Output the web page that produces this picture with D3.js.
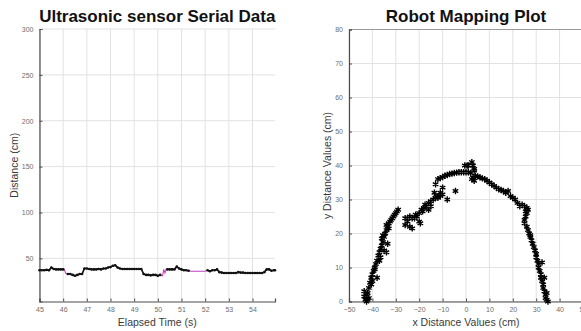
<!DOCTYPE html>
<html><head><meta charset="utf-8">
<script src="https://cdn.jsdelivr.net/npm/d3@7"></script>
<style>body{margin:0;background:#fff}svg{display:block}</style>
</head><body>
<svg id="c" width="581" height="331"></svg>
<script>
// ---- Data: Ultrasonic sensor serial data ----
const timeS = [45.0,45.1,45.2,45.3,45.4,45.5,45.6,45.7,45.8,45.9,46.0,46.05,46.1,46.15,46.2,46.3,46.4,46.5,46.6,46.7,46.8,46.9,47.0,47.1,47.2,47.3,47.4,47.5,47.6,47.7,47.8,47.9,48.0,48.1,48.2,48.3,48.4,48.5,48.6,48.7,48.8,48.9,49.0,49.1,49.2,49.3,49.4,49.5,49.6,49.7,49.8,49.9,50.0,50.1,50.2,50.25,50.3,50.35,50.4,50.5,50.6,50.7,50.8,50.9,51.0,51.1,51.2,51.3,51.4,51.6,51.8,52.0,52.1,52.2,52.3,52.4,52.5,52.6,52.7,52.8,52.9,53.0,53.1,53.2,53.3,53.4,53.5,53.6,53.7,53.8,53.9,54.0,54.1,54.2,54.3,54.4,54.5,54.6,54.7,54.8,54.9,54.95];
const distCm = [37,37,37,37.5,37,40,38.5,38,38,38,38,38,34,33,33,33,32,31,32,33,33,39,39,38.5,38,38,38,38.5,38,39,39,40,40.5,42,42.5,40,39,38.5,38.5,38.5,38.5,38.5,38.5,38.5,38.5,38.5,33,32,32,31.5,32,32,31,32,31,38,34,38,38,38,38,38,41,39,38,37,37,36.5,36,36,36,36,37,36,37,37,38,35,34.5,34,34,34,34,34,34,35,34.5,34.5,34,34,34,34,34,34,34,34,35,38,38,36.5,37,37];
// time ranges where the sensor samples have no marker (only the raw magenta trace)
const gapStart = [46.05, 50.2, 51.4];
const gapEnd   = [46.15, 50.35, 52.0];
const timeTicks = [45,46,47,48,49,50,51,52,53,54];
const distTicks = [50,100,150,200,250,300];

// ---- Data: Robot mapping plot ----
const mapX = [-43.5,-43.5,-43,-42.5,-42,-41.5,-42,-41.5,-41,-40.5,-40,-39.5,-39,-38.5,-38,-37.5,-37,-36.5,-36,-35.5,-35,-34.5,-34,-33.5,-33,-32.5,-32,-31.5,-31,-30.5,-30,-29.5,-29,-34,-35,-37,-38,-40,-36,-34,-33.5,-39,-40.5,-42.5,-36.5,-35.5,-33,
 -26,-26,-25,-24,-23,-24,-23,-22,-21,-20,-19,-20,-19.5,-18,-17,-16,-15,-14,-13,-12,-11,-10,-11,-12,-10,-8,-4.5,-16,-15,-18.5,-21.5,-25,-13.5,-17.5,
 -13,-12,-11,-10,-9,-8,-7,-6,-5,-4,-3,-2,-1,0,1,2,2.5,3,3.5,4,5,6,7,8,9,10,11,12,13,14,15,16,17,18,19,20,21,22,23,24,25,26,26.5,26,25.5,25,25,26,26.5,27,27.5,28,28.5,29,29.5,30,30,30.5,31,31,31.5,32,32,32.5,33,33,33.5,34,34,34.5,35,34.5,33.5,32.5,27.5,25.5,
 -0.5,0.5,1,2.5,3,3.5,3.5];
const mapY = [3,1.5,0.5,0,0.5,1,2.5,4,5.5,7,8,9,10,11,12,13.5,14.5,15.5,16.5,17.5,19,20,21,22,23,23.5,24,24.5,25,25.5,26,26.5,27,14.5,15,12,7,6,18.5,22.5,17,9.5,5,2,13,19.5,21.5,
 22.5,24.5,24.5,25,24.5,22,21.5,24.5,25,26,27,23.5,23,27.5,28,29,29.5,30,30.5,31,31,31.5,32,30.5,33.5,30,32.5,27,28,26.5,25.5,23.5,32,28.5,
 34.5,36,36.3,36.6,37,37.2,37.5,37.6,37.8,37.9,38,38,38,38,38,37.8,36,36.5,35.5,37,36.8,36.5,36.2,36,35.5,35,34.5,34,33.5,33,32.8,32.5,32,32.5,31,30.5,30,29,28,28.5,28,27.5,27,26,25,24,23,22,21,20,19,18,17,16,15,14,13,12,11,10,9,8,7,6,5,4,3,2,1,0.5,0,2.5,7,11.5,19.5,26.5,
 40,40,40,41,40,39,38.5];
const mapXTicks = [-50,-40,-30,-20,-10,0,10,20,30,40,50];
const mapYTicks = [0,10,20,30,40,50,60,70,80];

// ---- Drawing ----
const svg = d3.select('#c');
const FONT = '"Liberation Sans", Arial, Helvetica, sans-serif';
const gridCol = '#e2e2e2', axisCol = '#4d4d4d', tickTxt = '#6e6e6e';

function panel(o){
  const g = svg.append('g');
  const x = d3.scaleLinear().domain(o.xd).range([o.l, o.r]);
  const y = d3.scaleLinear().domain(o.yd).range([o.b, o.t]);
  g.selectAll('.gx').data(o.xt).join('line')
    .attr('x1', d=>x(d)).attr('x2', d=>x(d)).attr('y1', o.t).attr('y2', o.b)
    .attr('stroke', gridCol).attr('stroke-width', 1);
  g.selectAll('.gy').data(o.yt).join('line')
    .attr('x1', o.l).attr('x2', o.r).attr('y1', d=>y(d)).attr('y2', d=>y(d))
    .attr('stroke', gridCol).attr('stroke-width', 1);
  if (o.box) {
    g.append('line').attr('x1', o.l).attr('x2', o.r).attr('y1', o.t).attr('y2', o.t)
      .attr('stroke', '#9a9a9a').attr('stroke-width', 1);
  }
  const ax = g.append('g').attr('transform', `translate(0,${o.b})`)
    .call(d3.axisBottom(x).tickValues(o.xt).tickSize(-3).tickPadding(6).tickFormat(d3.format('d')));
  const ay = g.append('g').attr('transform', `translate(${o.l},0)`)
    .call(d3.axisLeft(y).tickValues(o.yt).tickSize(-3).tickPadding(6).tickFormat(d3.format('d')));
  [ax, ay].forEach(a => {
    a.select('.domain').attr('stroke', axisCol).attr('stroke-width', 1.2);
    a.selectAll('.tick line').attr('stroke', axisCol);
    a.selectAll('.tick text').attr('fill', tickTxt).style('font-family', FONT).style('font-size', '7px');
  });
  svg.append('text').attr('x', (o.l + o.r)/2).attr('y', 22).attr('text-anchor', 'middle')
    .style('font-family', FONT).style('font-weight', 'bold').style('font-size', '17px')
    .attr('fill', '#111').text(o.title);
  svg.append('text').attr('x', (o.l + o.r)/2).attr('y', 326).attr('text-anchor', 'middle')
    .style('font-family', FONT).style('font-size', '10.5px').attr('fill', '#3a3a3a').text(o.xlabel);
  svg.append('text').attr('transform', `translate(${o.yl},${(o.t + o.b)/2}) rotate(-90)`)
    .attr('text-anchor', 'middle')
    .style('font-family', FONT).style('font-size', '10.5px').attr('fill', '#3a3a3a').text(o.ylabel);
  return {g, x, y};
}

// Left panel
const L = panel({l:39.5, r:275, t:29, b:301.5, xd:[45,54.95], yd:[3,300],
  xt: timeTicks, yt: distTicks, title:'Ultrasonic sensor Serial Data',
  xlabel:'Elapsed Time (s)', ylabel:'Distance (cm)', yl:18});
const sensor = timeS.map((t,i)=>({t, d:distCm[i], gap: gapStart.some((s,k)=> t>=s && t<=gapEnd[k])}));
L.g.append('path').datum(sensor)
  .attr('d', d3.line().x(d=>L.x(d.t)).y(d=>L.y(d.d)))
  .attr('fill','none').attr('stroke','#c040c0').attr('stroke-width',1.1);
L.g.append('path').datum(sensor)
  .attr('d', d3.line().defined(d=>!d.gap).x(d=>L.x(d.t)).y(d=>L.y(d.d)))
  .attr('fill','none').attr('stroke','#111').attr('stroke-width',1.6);
L.g.selectAll('.pt').data(sensor.filter(d=>!d.gap)).join('circle')
  .attr('cx', d=>L.x(d.t)).attr('cy', d=>L.y(d.d)).attr('r', 1.3).attr('fill', '#111');

// Right panel
const R = panel({l:349, r:583, t:29.5, b:301.5, xd:[-50,50], yd:[0,80],
  xt: mapXTicks, yt: mapYTicks, title:'Robot Mapping Plot',
  xlabel:'x Distance Values (cm)', ylabel:'y Distance Values (cm)', yl:331, box:true});
const sym = d3.symbol().type(d3.symbolAsterisk || d3.symbolCross).size(28);
R.g.selectAll('.st').data(mapX.map((v,i)=>({x:v, y:mapY[i]}))).join('path')
  .attr('transform', d=>`translate(${R.x(d.x)},${R.y(d.y)})`)
  .attr('d', sym).attr('fill','none').attr('stroke','#000').attr('stroke-width',1.4);
</script>
</body></html>
